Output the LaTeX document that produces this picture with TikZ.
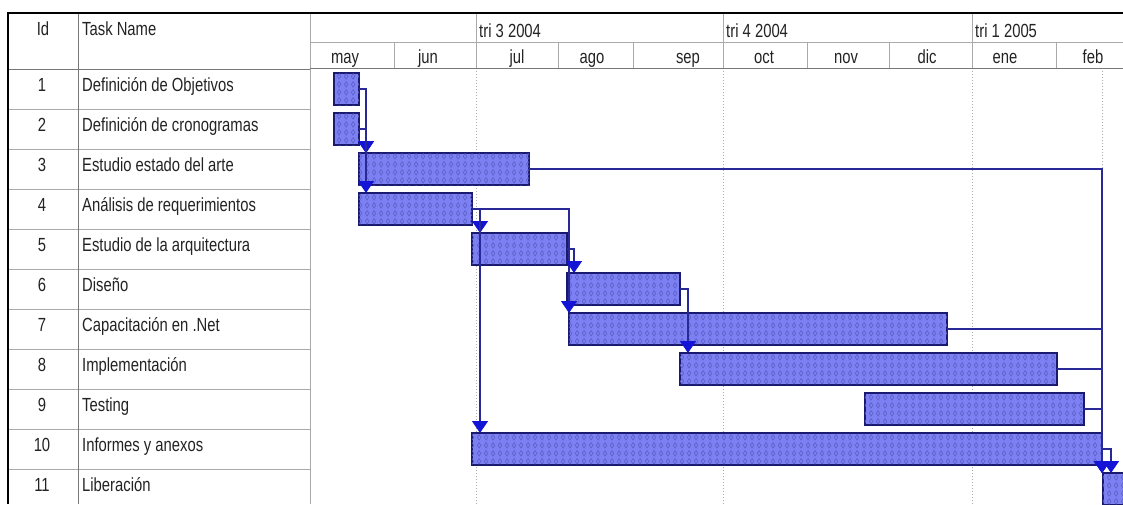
\documentclass[tikz,border=0pt]{standalone}
\usepackage{fontspec}
\setmainfont{Liberation Sans}[FakeStretch=0.78]
\usetikzlibrary{arrows.meta,calc,patterns.meta}
\definecolor{barfill}{RGB}{124,128,242}
\definecolor{barline}{RGB}{25,25,110}
\definecolor{barpat}{RGB}{92,96,200}
\definecolor{linkc}{RGB}{40,40,150}
\definecolor{arrowc}{RGB}{20,20,215}
\definecolor{gridc}{RGB}{170,170,170}
\definecolor{gridd}{RGB}{120,120,120}
\definecolor{txt}{RGB}{35,35,35}
\tikzdeclarepattern{
  name=ganttdots,
  type=uncolored,
  bounding box={(0pt,0pt) and (7pt,8pt)},
  tile size={(7pt,8pt)},
  code={\draw[line width=0.7pt] (3.5pt,1pt) -- (5.5pt,4pt) -- (3.5pt,7pt) -- (1.5pt,4pt) -- cycle;}
}
\begin{document}
\begin{tikzpicture}[x=1pt,y=-1pt,
  bar/.style={draw=barline, line width=1.2pt, fill=barfill,
    postaction={pattern=ganttdots, pattern color=barpat},
    anchor=north west, minimum height=32pt, inner sep=0pt, outer sep=0pt},
  lbl/.style={font=\fontsize{19}{21}\selectfont, text=txt, inner sep=0pt, anchor=base west},
  idl/.style={font=\fontsize{19}{21}\selectfont, text=txt, inner sep=0pt, anchor=base},
  link/.style={draw=linkc, line width=1.4pt, -{Triangle[width=16pt,length=12pt,color=arrowc]}},
  grid/.style={draw=gridc, line width=1pt},
  gridk/.style={draw=gridd, line width=1pt},
  dotline/.style={draw=gridc, line width=1pt, dotted}
]
\useasboundingbox (0,0) rectangle (1123,504);
\clip (0,0) rectangle (1123,504);
\fill[white] (0,0) rectangle (1123,504);

% dotted time grid
\foreach \x in {476,723,972,1102} \draw[dotline] (\x,68) -- (\x,504);

% table grid
\foreach \k in {1,...,10} \draw[grid] (8,{69+40*\k}) -- (310,{69+40*\k});
\draw[gridk] (8,69) -- (310,69);
\draw[gridk] (78,12) -- (78,504);
\draw[grid] (310,12) -- (310,504);
\draw[grid] (310,42) -- (1123,42);
\draw[gridk] (310,68) -- (1123,68);
\foreach \x in {476,723,972} \draw[grid] (\x,12) -- (\x,68);
\foreach \x in {394,558,633,807,889,1056} \draw[grid] (\x,42) -- (\x,68);
\draw[black, line width=2pt] (8,12.5) -- (1123,12.5);
\draw[black, line width=1.5pt] (8,12) -- (8,504);

% header texts
\node[idl] (hid) at (43,35) {Id};
\node[lbl] (hname) at (82,35) {Task Name};
\node[lbl] (q3) at (479,37) {tri 3 2004};
\node[lbl] (q4) at (726,37) {tri 4 2004};
\node[lbl] (q1) at (975,37) {tri 1 2005};
\foreach \m/\c [count=\i] in {may/345,jun/428,jul/517,ago/592,sep/688,oct/764,nov/846,dic/927,ene/1005,feb/1093}
  \node[idl] (m\i) at (\c,63) {\m};

% task rows
\foreach \n [count=\i] in {Definición de Objetivos,Definición de cronogramas,Estudio estado del arte,Análisis de requerimientos,Estudio de la arquitectura,Diseño,Capacitación en .Net,Implementación,Testing,Informes y anexos,Liberación}{
  \node[idl] (id\i) at (42,{69+40*(\i-1)+22}) {\i};
  \node[lbl] (tn\i) at (82,{69+40*(\i-1)+22}) {\n};
}

% bars
\node[bar,minimum width=25pt]  (b1)  at (334,73)  {};
\node[bar,minimum width=25pt]  (b2)  at (334,113) {};
\node[bar,minimum width=170pt] (b3)  at (359,153) {};
\node[bar,minimum width=113pt] (b4)  at (359,193) {};
\node[bar,minimum width=95pt]  (b5)  at (472,233) {};
\node[bar,minimum width=113pt] (b6)  at (567,273) {};
\node[bar,minimum width=378pt] (b7)  at (569,313) {};
\node[bar,minimum width=377pt] (b8)  at (680,353) {};
\node[bar,minimum width=219pt] (b9)  at (865,393) {};
\node[bar,minimum width=630pt] (b10) at (472,433) {};
\node[bar,minimum width=40pt]  (b11) at (1103,473) {};

% arrow targets
\coordinate (a3)  at ($(b3.north west)+(7,0)$);
\coordinate (a4)  at ($(b4.north west)+(7,0)$);
\coordinate (a5)  at ($(b5.north west)+(8,0)$);
\coordinate (a6)  at ($(b6.north west)+(7,0)$);
\coordinate (a7)  at ($(b7.north west)+(0,0)$);
\coordinate (a8)  at ($(b8.north west)+(8,0)$);
\coordinate (a10) at ($(b10.north west)+(8,0)$);
\coordinate (a11) at ($(b11.north west)+(-1,0)$);
\coordinate (a11b) at ($(b11.north west)+(8,0)$);

% links
\draw[link] (b1.east) -| (a3);
\draw[link] (b2.east) -| (a3);
\draw[link] (b2.east) -| (a4);
\draw[link] (b4.east) -| (a5);
\draw[link] (b4.east) -| (a10);
\draw[link] (b4.east) -| (a7);
\draw[link] (b5.east) -| (a6);
\draw[link] (b6.east) -| (a8);
\draw[link] (b3.east) -| (a11);
\draw[link] (b7.east) -| (a11);
\draw[link] (b8.east) -| (a11);
\draw[link] (b9.east) -| (a11);
\draw[link] (b10.east) -| (a11b);
\end{tikzpicture}
\end{document}
